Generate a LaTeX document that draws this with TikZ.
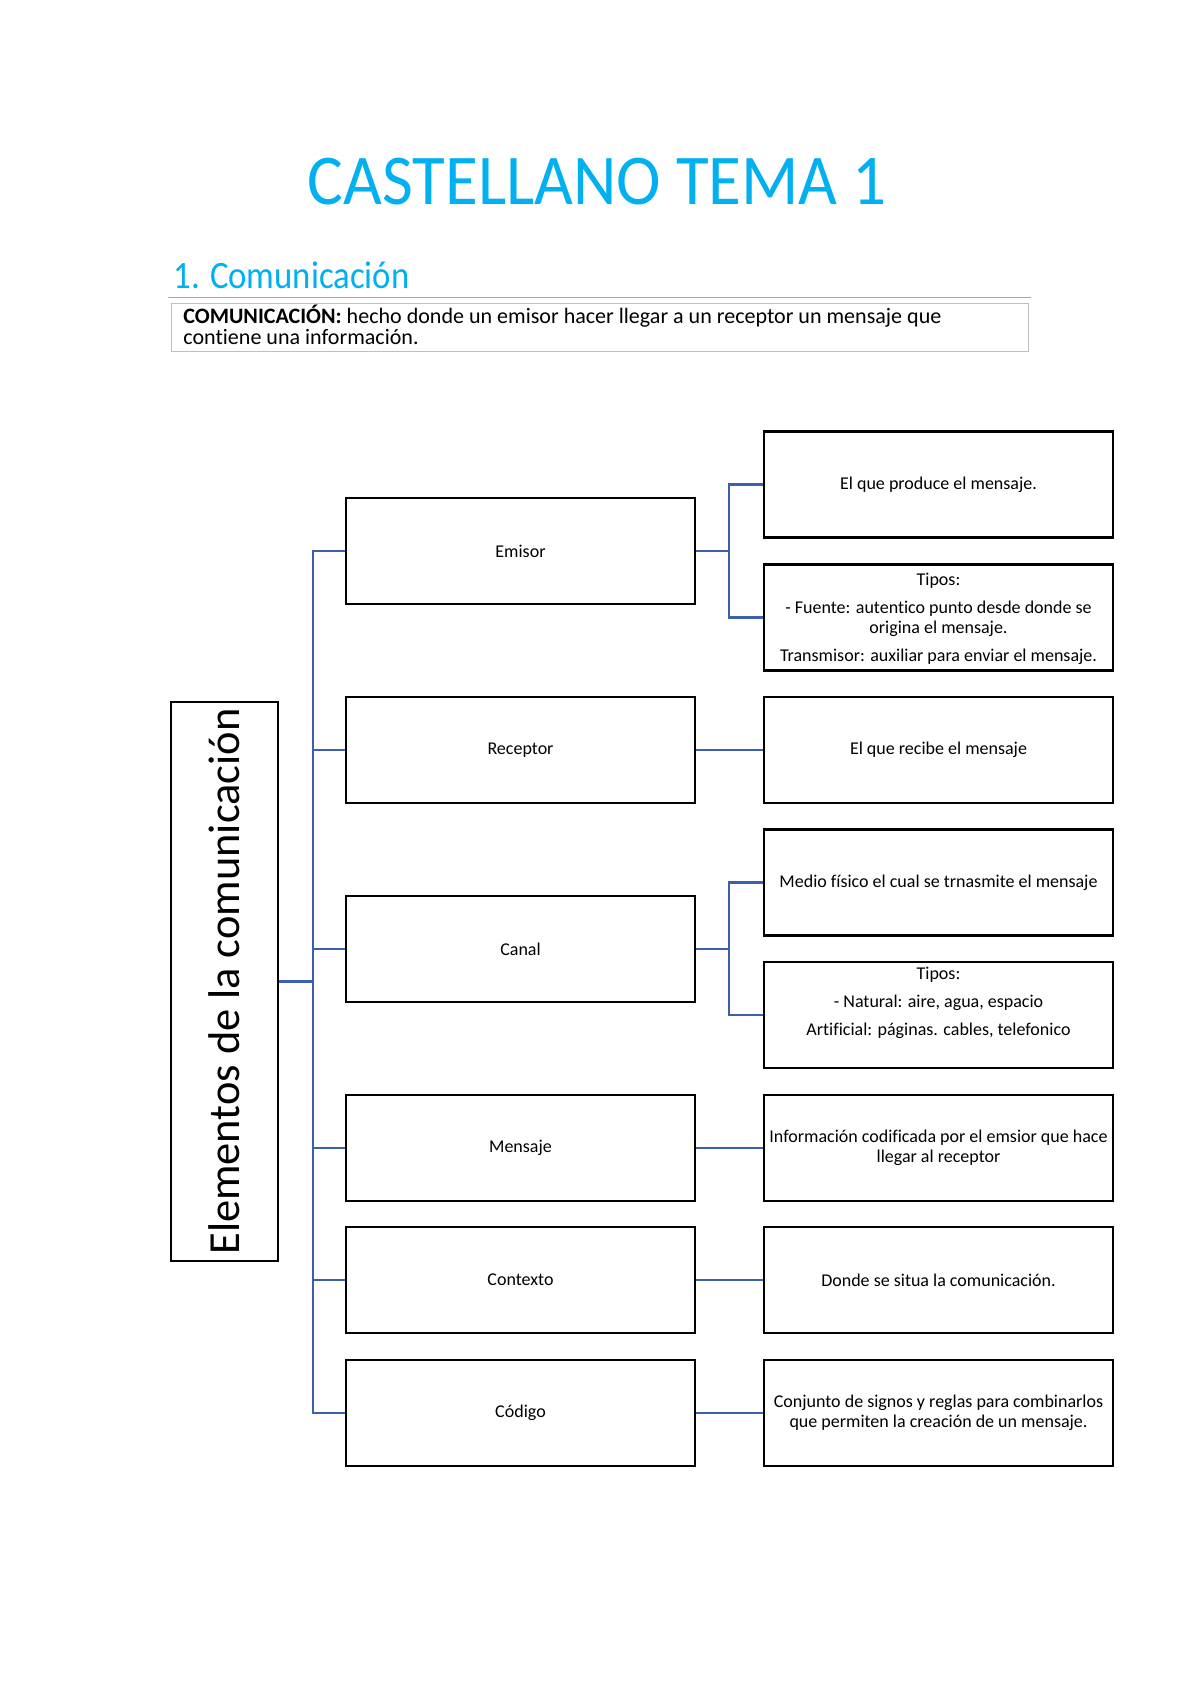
\documentclass[tikz,border=0pt]{standalone}
\usepackage{fontspec}
\setmainfont{Carlito}[RawFeature={-liga}]
\usepackage{graphicx}
\definecolor{titleblue}{RGB}{0,176,240}
\definecolor{linkblue}{RGB}{60,95,175}
\definecolor{rulegreen}{RGB}{155,187,89}
\definecolor{boxgray}{RGB}{191,191,191}
\newsavebox\deflineA
\begin{document}
\begin{tikzpicture}[x=0.5pt,y=-0.5pt,
  elbox/.style={draw=black, line width=1.2pt, minimum width=174.5pt, minimum height=53pt,
    inner sep=0pt, font=\fontsize{9pt}{10pt}\selectfont, align=center},
  txt/.style={inner sep=0pt, font=\fontsize{9pt}{10pt}\selectfont, align=center},
  link/.style={draw=linkblue, line width=1.1pt, line join=miter}]
\useasboundingbox[fill=white] (0,0) rectangle (1200,1697);

% header
\node[anchor=base, inner sep=0pt, text=titleblue] (title) at (597.5,204)
  {\resizebox{289.5pt}{\height}{\fontsize{35.7pt}{40pt}\selectfont CASTELLANO TEMA 1}};
\node[anchor=base west, inner sep=0pt, text=titleblue] (heading) at (173,288)
  {\resizebox{118pt}{\height}{\fontsize{19.4pt}{22pt}\selectfont 1. Comunicación}};
\draw[rulegreen, line width=0.75pt] (168,297.5) -- (1031,297.5);
\node[draw=boxgray, line width=0.6pt, minimum width=428.5pt, minimum height=24pt,
  inner sep=0pt, anchor=north west] (defbox) at (171,303) {};
\node[anchor=base west, inner sep=0pt] (defA) at (183,323)
  {\sbox\deflineA{\fontsize{11pt}{13pt}\selectfont\textbf{COMUNICACIÓN:} hecho donde un emisor hacer llegar a un receptor un mensaje que}%
   \pgfmathsetmacro\defsx{379pt/\wd\deflineA}\global\let\defsxg\defsx
   \scalebox{\defsx}[1]{\usebox\deflineA}};
\node[anchor=base west, inner sep=0pt] (defB) at (183,344)
  {\scalebox{\defsxg}[1]{\fontsize{11pt}{13pt}\selectfont contiene una información.}};

% left box
\node[draw=black, line width=1.2pt, minimum width=53.5pt, minimum height=279.5pt, inner sep=0pt]
  (elem) at (224.5,981.5)
  {\rotatebox{90}{\fontsize{22.2pt}{24pt}\selectfont Elementos de la comunicación}};

% middle boxes
\node[elbox] (emisor)   at (520.5,551)  {Emisor};
\node[elbox] (receptor) at (520.5,750)  {Receptor};
\node[elbox] (canal)    at (520.5,949)  {Canal};
\node[elbox] (mensaje)  at (520.5,1148) {Mensaje};
\node[elbox] (contexto) at (520.5,1280) {Contexto};
\node[elbox] (codigo)   at (520.5,1413) {Código};

% right boxes
\node[elbox] (produce)  at (938.5,484.5) {El que produce el mensaje.};
\node[elbox] (etipos)   at (938.5,617.5) {};
\node[txt, anchor=north] (etiposT) at (938.5,573)
  {Tipos:\\[4pt] - Fuente: autentico punto desde donde se\\ origina el mensaje.\\[4pt] Transmisor: auxiliar para enviar el mensaje.};
\node[elbox] (recibe)   at (938.5,750)  {El que recibe el mensaje};
\node[elbox] (medio)    at (938.5,882.5) {Medio físico el cual se trnasmite el mensaje};
\node[elbox] (ctipos)   at (938.5,1015) {};
\node[txt, anchor=north] (ctiposT) at (938.5,967)
  {Tipos:\\[4pt] - Natural: aire, agua, espacio\\[4pt] Artificial: páginas. cables, telefonico};
\node[elbox] (info)     at (938.5,1148) {Información codificada por el emsior que hace\\ llegar al receptor};
\node[elbox] (donde)    at (938.5,1280) {Donde se situa la comunicación.};
\node[elbox] (conj)     at (938.5,1413) {Conjunto de signos y reglas para combinarlos\\ que permiten la creación de un mensaje.};

% connectors
\coordinate (trunk) at (313,0);
\coordinate (ebr) at (729,0);
\coordinate (cbr) at (729,0);
\draw[link] (elem.east) -- (elem.east -| trunk);
\draw[link] (emisor.west) -- (emisor.west -| trunk) -- (codigo.west -| trunk) -- (codigo.west);
\draw[link] (receptor.west -| trunk) -- (receptor.west);
\draw[link] (canal.west -| trunk) -- (canal.west);
\draw[link] (mensaje.west -| trunk) -- (mensaje.west);
\draw[link] (contexto.west -| trunk) -- (contexto.west);

\draw[link] (emisor.east) -- (emisor.east -| ebr);
\draw[link] (produce.west) -- (produce.west -| ebr) -- (etipos.west -| ebr) -- (etipos.west);
\draw[link] (canal.east) -- (canal.east -| cbr);
\draw[link] (medio.west) -- (medio.west -| cbr) -- (ctipos.west -| cbr) -- (ctipos.west);
\draw[link] (receptor.east) -- (recibe.west);
\draw[link] (mensaje.east) -- (info.west);
\draw[link] (contexto.east) -- (donde.west);
\draw[link] (codigo.east) -- (conj.west);
\end{tikzpicture}
\end{document}
